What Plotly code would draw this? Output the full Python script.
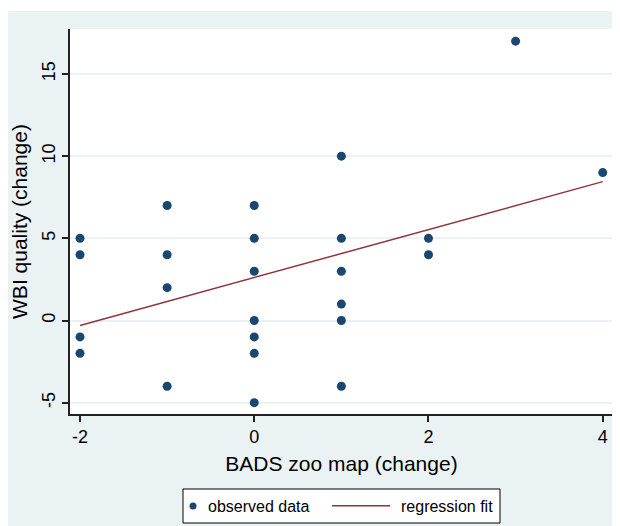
import plotly.graph_objects as go

bads_change = [-2, -2, -2, -2,
               -1, -1, -1, -1,
               0, 0, 0, 0, 0, 0, 0,
               1, 1, 1, 1, 1, 1,
               2, 2,
               3,
               4]
wbi_change = [5, 4, -1, -2,
              7, 4, 2, -4,
              7, 5, 3, 0, -1, -2, -5,
              10, 5, 3, 1, 0, -4,
              5, 4,
              17,
              9]

# Regression fit line endpoints
fit_x = [-2, 4]
fit_y = [-0.3, 8.45]

x_ticks = [-2, 0, 2, 4]
x_tick_text = ["-2", "0", "2", "4"]
y_ticks = [-5, 0, 5, 10, 15]
y_tick_text = ["-5", "0", "5", "10", "15"]

legend_labels = ["observed data", "regression fit"]

NAVY = "#1a476f"
MAROON = "#90353b"
BG = "#eaf2f3"
FONT = "Liberation Sans, Arial, Helvetica, sans-serif"

fig = go.Figure()
fig.add_trace(go.Scatter(
    x=bads_change, y=wbi_change, mode="markers", name=legend_labels[0],
    marker=dict(color=NAVY, size=9, line=dict(width=0)),
))
fig.add_trace(go.Scatter(
    x=fit_x, y=fit_y, mode="lines", name=legend_labels[1],
    line=dict(color=MAROON, width=1.5),
))

# page body has an 8px margin, so the figure is 612x518
W, H = 612, 518
L, R, T, B = 62, 7, 21, 112
pw, ph = W - L - R, H - T - B


def px_x(p):
    return (p - L) / pw


def px_y(p):
    return (H - B - p) / ph


# white top strip above the gray background
fig.add_shape(type="rect", xref="paper", yref="paper",
              x0=px_x(0), x1=px_x(W), y0=px_y(3), y1=px_y(0),
              fillcolor="white", line=dict(width=0), layer="below")

# legend drawn by hand (box, marker, line, labels)
fig.add_shape(type="rect", xref="paper", yref="paper",
              x0=px_x(175), x1=px_x(492), y0=px_y(515), y1=px_y(481),
              fillcolor="white", line=dict(color="black", width=1))
fig.add_shape(type="circle", xref="paper", yref="paper",
              x0=px_x(181.5), x1=px_x(188.5), y0=px_y(501.5), y1=px_y(494.5),
              fillcolor=NAVY, line=dict(width=0))
fig.add_shape(type="line", xref="paper", yref="paper",
              x0=px_x(324), x1=px_x(382), y0=px_y(497.7), y1=px_y(497.7),
              line=dict(color=MAROON, width=1.5))
fig.add_annotation(text=legend_labels[0], xref="paper", yref="paper",
                   x=px_x(198), y=px_y(498), xanchor="left", yanchor="middle",
                   showarrow=False, font=dict(size=16))
fig.add_annotation(text=legend_labels[1], xref="paper", yref="paper",
                   x=px_x(391), y=px_y(498), xanchor="left", yanchor="middle",
                   showarrow=False, font=dict(size=16))

fig.update_layout(
    width=W, height=H,
    margin=dict(l=L, r=R, t=T, b=B),
    paper_bgcolor=BG, plot_bgcolor="white",
    font=dict(family=FONT, color="black", size=16),
    showlegend=False,
)
fig.update_xaxes(
    range=[-2.115, 4.118], tickvals=x_ticks, ticktext=x_tick_text,
    showgrid=False, zeroline=False, automargin=False,
    showline=True, linecolor="#222", linewidth=1.5,
    ticks="outside", ticklen=6, tickcolor="#222", tickwidth=1.5,
    tickfont=dict(size=18),
    title=dict(text="BADS zoo map (change)", font=dict(size=21), standoff=10),
)
fig.update_yaxes(
    range=[-5.69, 17.74], tickvals=y_ticks, ticktext=y_tick_text,
    showgrid=True, gridcolor=BG, gridwidth=1.5,
    zeroline=False, automargin=False,
    showline=True, linecolor="#222", linewidth=1.5,
    ticks="outside", ticklen=6, tickcolor="#222", tickwidth=1.5,
    tickangle=-90, tickfont=dict(size=18),
    title=dict(text="WBI quality (change)", font=dict(size=21), standoff=8),
)

fig.write_html("out.html")
